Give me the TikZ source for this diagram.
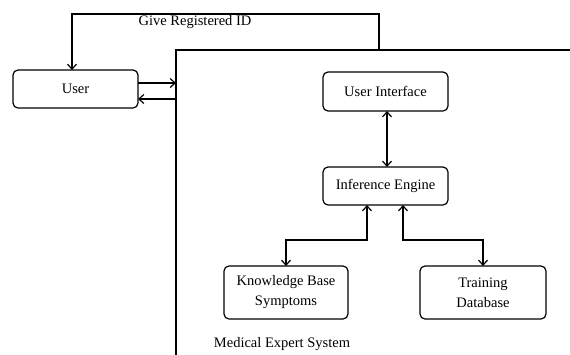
\documentclass[tikz,border=0pt]{standalone}
\usepackage{fontspec}
\setmainfont{Liberation Serif}
\usetikzlibrary{arrows.meta}

\tikzset{
  blk/.style={draw, line width=1.2pt, rounded corners=5pt, align=center,
    minimum width=125pt, font=\fontsize{14.5}{20}\selectfont},
  flow/.style={line width=1.2pt, -{Straight Barb[length=5pt,width=9pt]}},
  flows/.style={line width=1.2pt, {Straight Barb[length=5pt,width=9pt]}-{Straight Barb[length=5pt,width=9pt]}},
  lbl/.style={font=\fontsize{14.5}{17}\selectfont}
}

\begin{document}
\begin{tikzpicture}[y=1pt, x=1pt, yscale=-1, inner sep=0pt, outer sep=0pt]
\clip (0,0) rectangle (570,354);

% outer system box (runs off the page)
\draw[line width=1.2pt] (176,420) -- (176,50) -- (620,50);
\coordinate (mestop) at (379,50);
\coordinate (mesin) at (176,83);
\coordinate (mesout) at (176,99);

\node[blk, minimum height=38pt] (user) at (75.5,89) {User};
\node[blk, minimum height=39pt] (ui) at (385.5,91.5) {User Interface};
\node[blk, minimum height=38pt] (ie) at (385.5,186) {Inference Engine};
\node[blk, minimum height=53pt, minimum width=124pt] (kb) at (286,292.5)
  {Knowledge Base\\Symptoms};
\node[blk, minimum height=53pt, minimum width=126pt] (td) at (483,292.5)
  {Training\\Database};

\node[lbl] (regid) at (195,22) {Give Registered ID};
\node[lbl] (mes) at (282,344) {Medical Expert System};

% connectors
\draw[flows] ([xshift=1.5pt]ui.south) -- ([xshift=1.5pt]ie.north);
\draw[flow] (mestop) -- ++(0,-36) -| ([xshift=-3.5pt]user.north);
\draw[flow] (user.east |- mesin) -- (mesin);
\draw[flow] (mesout) -- (user.east |- mesout);
\draw[flows] ([xshift=-18.5pt]ie.south) |- ++(0,35) -| (kb.north);
\draw[flows] ([xshift=17.5pt]ie.south) |- ++(0,35) -| (td.north);

\end{tikzpicture}
\end{document}
